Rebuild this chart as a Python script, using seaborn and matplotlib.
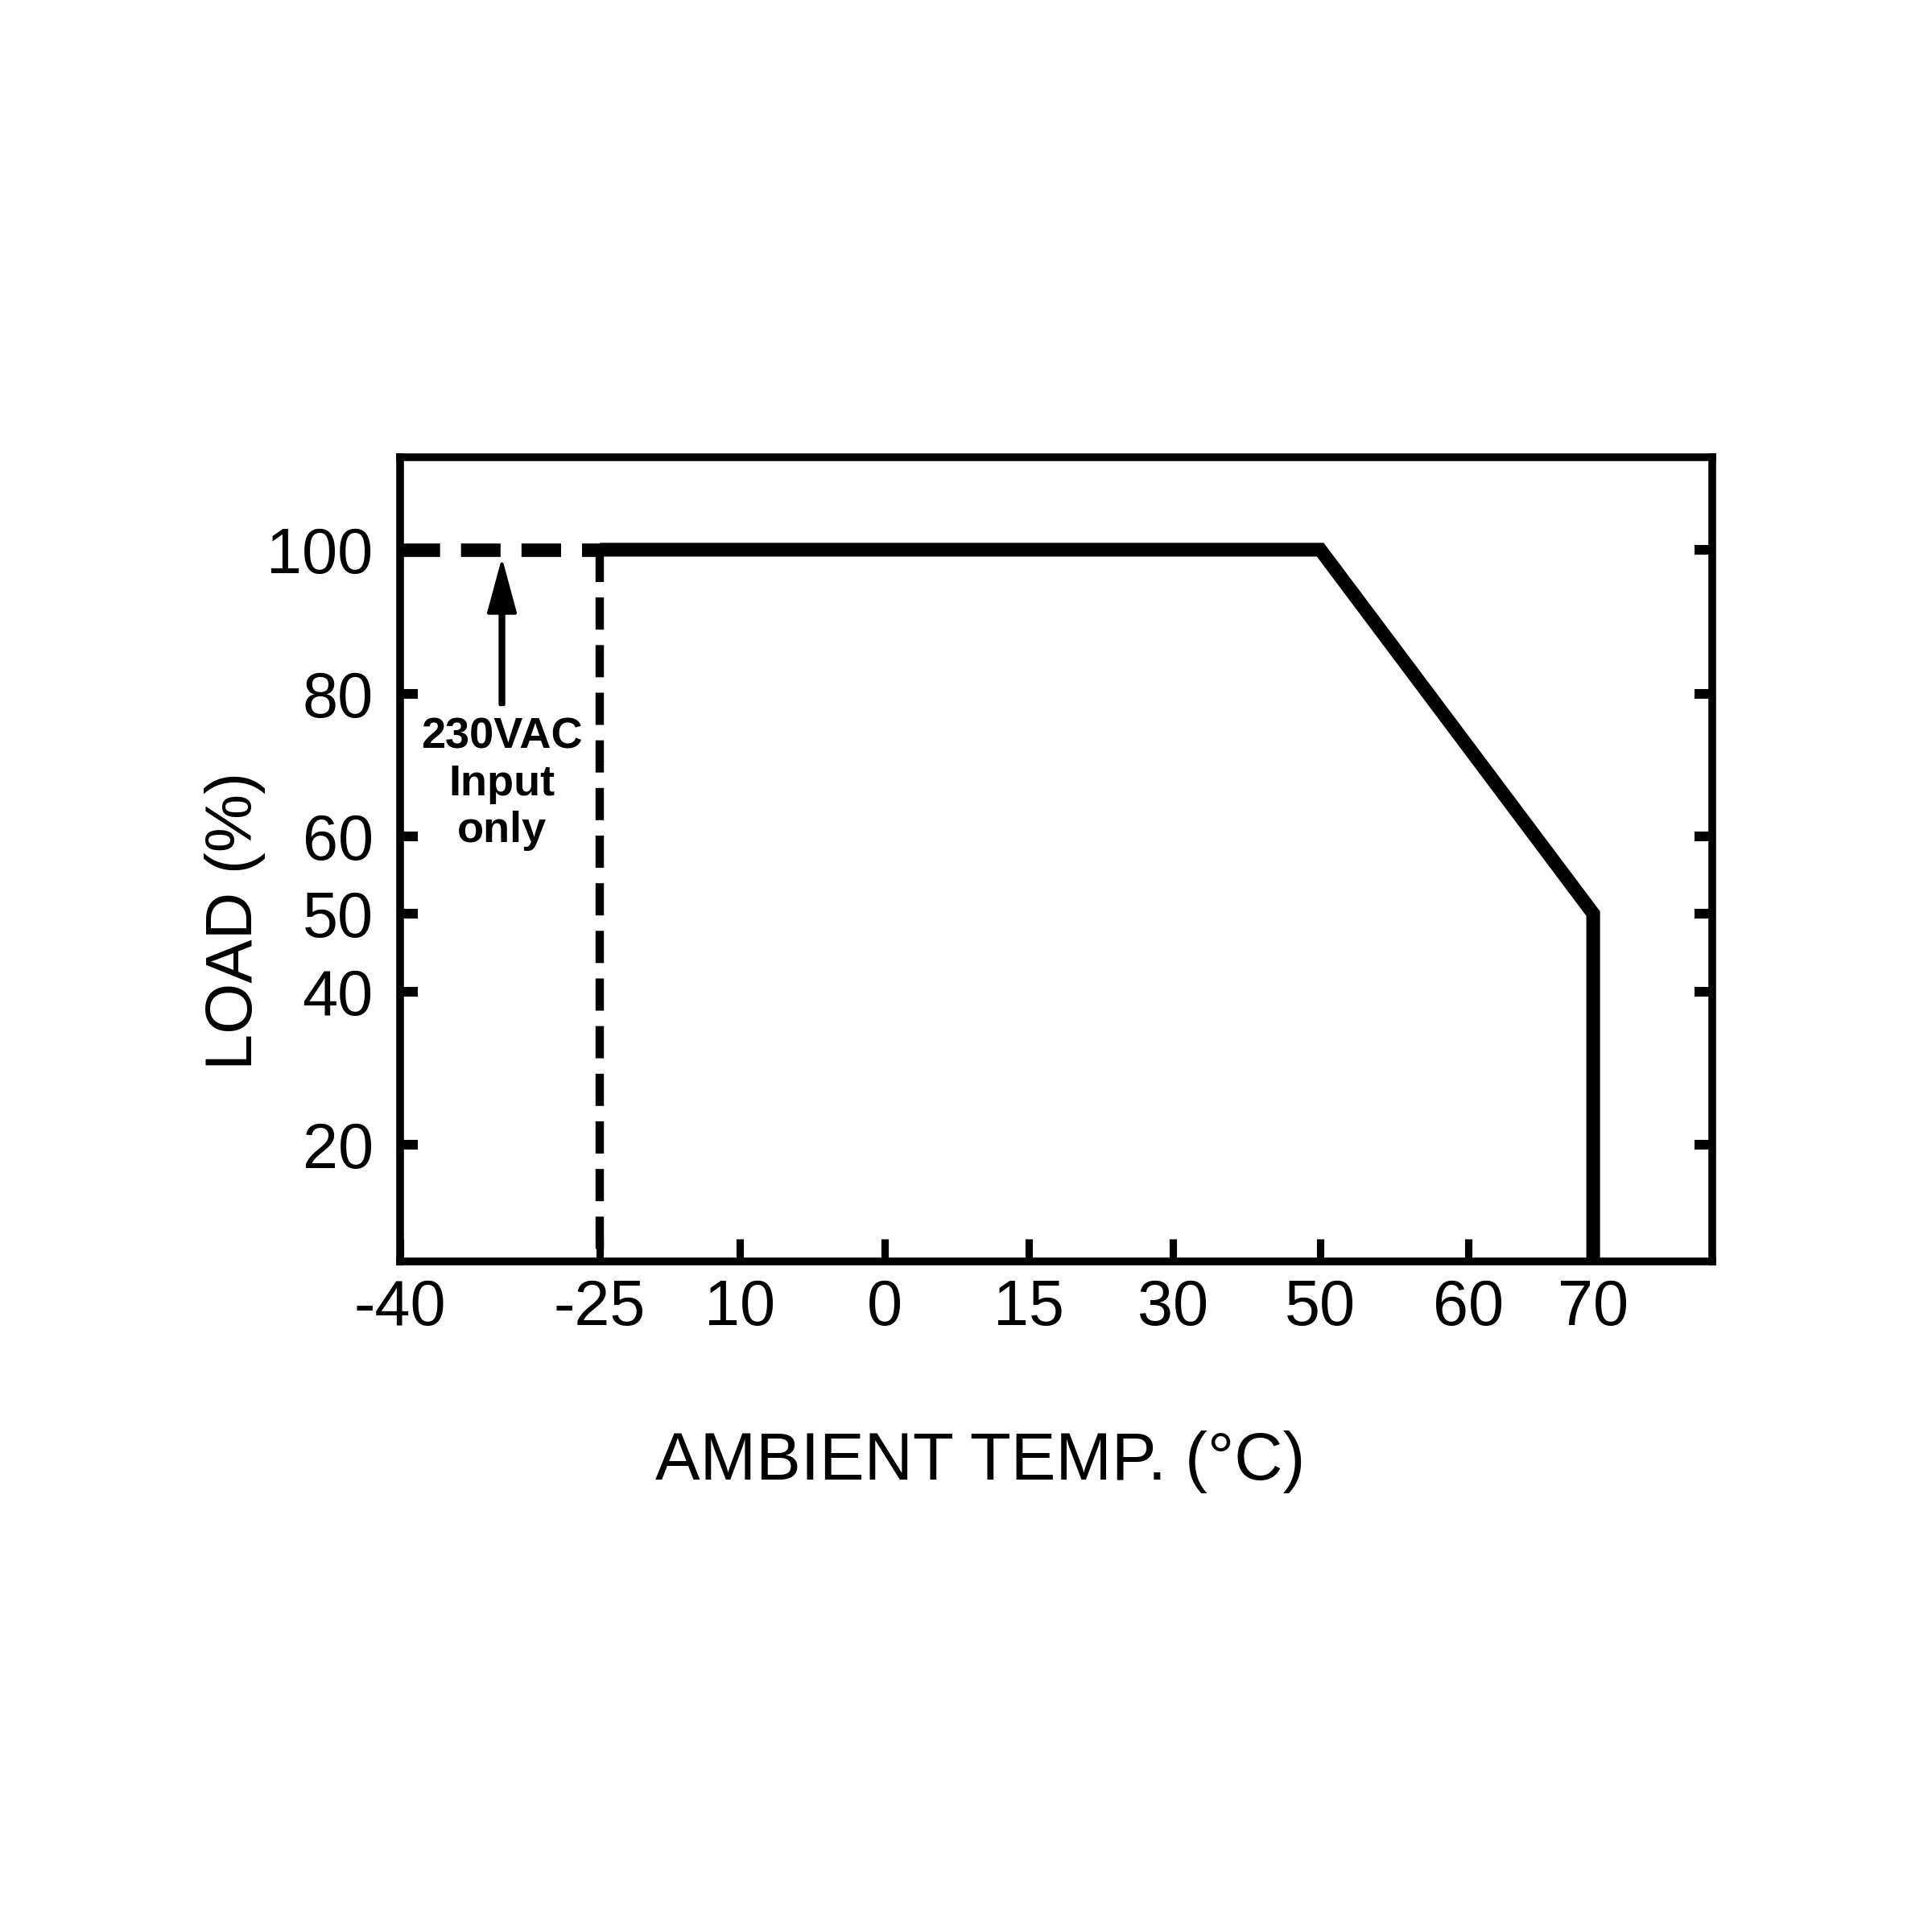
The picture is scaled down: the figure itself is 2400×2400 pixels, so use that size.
import numpy as np
import matplotlib
matplotlib.use("Agg")
import matplotlib.pyplot as plt
import seaborn as sns

# --- Data ---
temp_labels = ['-40', '-25', '10', '0', '15', '30', '50', '60', '70']
load_ticks = [20, 40, 50, 60, 80, 100]

# derating curve: full load -25..50, down to 50% at 70, then cut off
curve_temp = ['-25', '50', '70', '70']
curve_load = [100, 100, 50, 0]

# 230VAC-only extension down to -40
ext_temp = ['-40', '-25']
ext_load = [100, 100]

# dashed marker at -25
mark_temp = ['-25', '-25']
mark_load = [100, 0]

note_text = "230VAC\nInput\nonly"

# --- Axis layout (printed axes are not evenly spaced) ---
temp_pos = [0, 2.48, 4.22, 6.02, 7.81, 9.60, 11.43, 13.27, 14.82]
x_right = 16.30
load_ref = [0, 20, 40, 50, 60, 80, 100, 120]
load_ref_pos = [-45, 145, 335, 432, 528, 705, 884, 1063]

pos_of = dict(zip(temp_labels, temp_pos))


def load_fwd(v):
    return np.interp(v, load_ref, load_ref_pos)


def load_inv(p):
    return np.interp(p, load_ref_pos, load_ref)


sns.set_theme(style="white")
plt.rcParams['font.family'] = ['Liberation Sans', 'DejaVu Sans']

fig = plt.figure(figsize=(8, 8), dpi=300)
ax = fig.add_axes([0.2071, 0.3471, 0.6792, 0.4163])
ax.set_yscale('function', functions=(load_fwd, load_inv))

# solid derating curve
sns.lineplot(x=[pos_of[t] for t in curve_temp], y=curve_load, ax=ax,
             sort=False, estimator=None, color='black', linewidth=4.1,
             solid_joinstyle='miter', solid_capstyle='butt')

# dashed extension for 230VAC input
sns.lineplot(x=[pos_of[t] for t in ext_temp], y=ext_load, ax=ax,
             sort=False, estimator=None, color='black', linewidth=4.0)
ax.lines[-1].set_dashes([2.95, 1.56])
ax.lines[-1].set_dash_capstyle('butt')

# dashed vertical marker
sns.lineplot(x=[pos_of[t] for t in mark_temp], y=mark_load, ax=ax,
             sort=False, estimator=None, color='black', linewidth=2.5)
ax.lines[-1].set_dashes([3.84, 1.84])
ax.lines[-1].set_dash_capstyle('butt')

# note with arrow
note_x = pos_of['-40'] + 0.51 * (pos_of['-25'] - pos_of['-40'])
ax.annotate('', xy=(note_x, 98), xytext=(note_x, 78.5),
            arrowprops=dict(facecolor='black', edgecolor='black', width=1.0,
                            headwidth=7.9, headlength=14.6, shrink=0))
ax.text(note_x, 76.8, note_text, ha='center', va='top', fontsize=13,
        fontweight='bold', linespacing=1.22, color='black')

ax.set_xlim(0, x_right)
ax.set_ylim(4.74, 112.85)
ax.set_xticks(temp_pos)
ax.set_xticklabels(temp_labels, fontsize=19)
ax.set_yticks(load_ticks)
ax.set_yticklabels([str(v) for v in load_ticks], fontsize=19)
ax.minorticks_off()

ax.tick_params(axis='x', direction='in', length=6.7, width=2.2,
               color='black', labelcolor='black', pad=5, bottom=True)
ax.tick_params(axis='y', direction='in', length=5.2, width=2.9,
               color='black', labelcolor='black', pad=8,
               left=True, right=True)

for sp in ax.spines.values():
    sp.set_visible(True)
    sp.set_color('black')
    sp.set_linewidth(2.3)

ax.set_xlabel('AMBIENT TEMP. (°C)', fontsize=20, color='black')
ax.set_ylabel('LOAD (%)', fontsize=19.5, color='black')
ax.xaxis.set_label_coords(0.442, -0.249)
ax.xaxis.label.set_va('center')
ax.yaxis.set_label_coords(-0.126, 0.423)
ax.yaxis.label.set_va('center')

fig.savefig('out.png', dpi=300, facecolor='white')
